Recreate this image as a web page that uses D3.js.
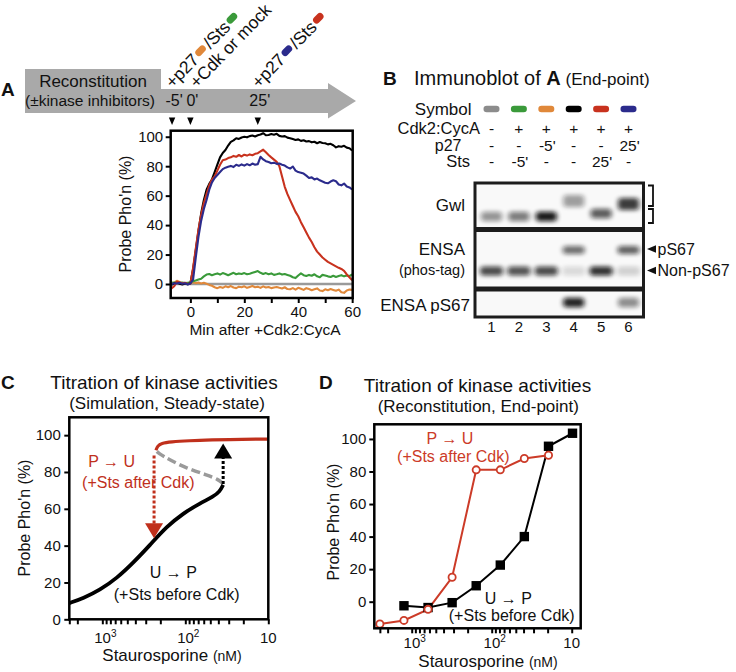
<!DOCTYPE html>
<html><head><meta charset="utf-8">
<script src="https://cdn.jsdelivr.net/npm/d3@7"></script>
<style>
body{margin:0;background:#fff}
svg{display:block}
text{font-family:"Liberation Sans",Arial,Helvetica,sans-serif;fill:#111}
</style>
</head><body>
<svg id="c" width="736" height="672"></svg>
<script>
// ================= DATA =================
// Panel A: time course (minutes after +Cdk2:CycA) and probe phosphorylation (%)
const minutes = [-7,-6,-5,-4,-3,-2,-1,0,1,2,3,4,5,6,7,8,9,10,11,12,13,14,15,16,17,18,19,20,21,22,23,24,25,26,27,28,29,30,31,32,33,34,35,36,37,38,39,40,41,42,43,44,45,46,47,48,49,50,51,52,53,54,55,56,57,58,59,60];
const seriesBlack = [-0.5,0.3,0.8,0.2,-0.3,0.4,-0.2,0.5,10,23,36,48,57,64,68,71,76,81,86,89,91,94,96.5,97.5,99,98.5,99.5,100,99.6,100.4,100.8,100.2,101,101.5,102.4,101,101.2,101.8,101.4,102,100.6,100.2,100.4,99.4,99,98.4,97.8,98.2,97.2,97.6,96.8,97,96.2,96.6,95.6,96.4,95.8,95.6,94.8,95.2,94.2,92.8,93.6,93.2,93.8,92.6,92.2,90.6];
const seriesRed = [-3,-1.5,1.5,1,0.5,0.8,0,0.2,11,24,37,47,55,61,67,71,73,77,81,84,84.5,85.5,86,87,86.4,87.6,86.6,87.8,87.2,88,87.4,88.4,88.8,90,91.2,89.4,87.6,86,84.5,83,80,73,66,61,57,53,49,46,42,38.5,35,31.5,28.5,25,22,20,18,16.5,15,14,13,12,11,10.2,9,6.5,4.5,2.5];
const seriesBlue = [0,0.5,0.3,0.8,0.2,0.5,-0.3,0.4,3,18,32,43,51,57,64,69,72,74,76,78,79,79.6,80.2,79.4,81,80.2,81.2,80.4,81.4,80.6,81.8,81,81.4,86.4,84.6,83.4,82.8,82,82.4,81.6,81.8,81,80.4,79.2,78.4,79.8,77,76,75.6,75,73.6,72,72.4,71,71.6,70.4,69.6,68.8,68.4,69.6,70.4,69.8,67.6,67,68.2,66.2,65.6,64.2];
const seriesGreen = [1,0.8,1.2,0.5,1,0.6,0.9,1.2,1.8,2.4,3,3.6,5.2,6.4,6.8,6,6.6,7.2,6.4,7.4,6.8,6,6.8,7.6,6.6,7.2,6.8,7.4,6.6,7,7.6,8.2,8.8,7.6,6.8,7.4,6.6,7.2,6.2,6.6,7.2,6.4,6.8,6.2,5.6,4.6,4,5.8,7.2,6,5.4,6.2,5.6,6.6,5.2,4.6,6.2,5.8,5.2,4.8,5.6,4.8,5.4,6,5.2,5.8,5.4,6.6];
const seriesOrange = [0.3,1,2.2,1.4,0.6,0,0.5,0.8,1.2,0.6,1,0.4,0.8,0.2,-0.6,-1.2,-2.2,-2.8,-2,-2.6,-1.6,-2.2,-1.4,-2.4,-2.8,-1.8,-2.2,-1.6,-2.6,-2,-1.4,-2.2,-1.8,-2.6,-1.6,-2.4,-2,-2.8,-2.4,-2,-2.6,-3,-2.2,-3.4,-3.6,-2.8,-3.8,-2.6,-3.2,-4,-2.8,-3.4,-4.2,-3.6,-3,-4.4,-4.8,-3.6,-4.2,-3.4,-4,-4.6,-3.8,-5.6,-6,-4.4,-3.8,-4];
const mockMinutes = [-7, 60];
const seriesGray = [0, 0];
const timelineMarks = [-6.8, 0, 25];
const timelineLabels = ["-5'", "0'", "25'"];

// Panel B: immunoblot table
const lanes = [1,2,3,4,5,6];
const laneColors = ["#8c8c8c","#3a9a3a","#e0883a","#000000","#c8321e","#2b2b8c"];
const rowCdk = ["-","+","+","+","+","+"];
const rowP27 = ["-","-","-5'","-","-","25'"];
const rowSts = ["-","-5'","-","-","25'","-"];
const gwlShift = [0,0,0,1,0.2,0.8];          // mobility shift (0 = fast, 1 = slow)
const gwlSignal = [0.42,0.52,0.95,0.38,0.66,0.8];
const ensaPS67Signal = [0,0,0,0.58,0,0.64];
const ensaNonSignal = [0.74,0.7,0.74,0.13,0.85,0.17];
const antiPS67Signal = [0,0,0,0.9,0,0.45];

// Panel C: simulated steady state (Staurosporine nM, %)
const simStableLow = [[2500,8.8],[1700,11.4],[1067,15.9],[670,22.3],[424,30.7],[266,40.4],[168,50.3],[106,57.6],[66.5,63],[46,66.6],[38.5,69.3],[35,73]];
const simUnstable = [[35,73.6],[40,76],[55,78.4],[96,82],[153,86.5],[212,90.2],[226,91.8]];
const simStableHigh = [[226,91.8],[215,94.2],[195,95.6],[150,96.4],[90,97],[50,97.4],[20,97.8],[10,97.9]];
const foldDown = [238, 89, 44];   // conc, from %, to % (P -> U jump)
const foldUp = [35, 73.5, 95.5];   // conc, from %, to % (U -> P jump)

// Panel D: reconstitution end-point
const concBefore = [1250,625,312.5,156.25,78.1,39.1,19.5,9.77];
const valBefore = [-2.5,-3.6,-0.6,9.8,22.5,40,95.5,103.5];
const concAfter = [2500,1250,625,312.5,156.25,78.1,39.1,19.5];
const valAfter = [-13.7,-11.5,-4.7,15,81,81,88,90];

const yTicks = [0,20,40,60,80,100];
const logLabels = {1000:["10","3"],100:["10","2"],10:["10",""]};

// ================= DRAW =================
const svg = d3.select("#c");

function txt(x,y,s,size,anchor,opts={}){
  const t = svg.append("text").attr("x",x).attr("y",y).attr("font-size",size)
    .attr("text-anchor",anchor||"start").text(s);
  if(opts.bold) t.attr("font-weight","bold");
  if(opts.fill) t.style("fill",opts.fill);
  return t;
}

// ---------- Panel A ----------
txt(1,96,"A",19,"start",{bold:true});
svg.append("polygon")
  .attr("points",[[25,69],[161,69],[161,89],[328,89],[328,83],[356,101],[328,118.5],[328,113],[25,113]].map(p=>p.join(",")).join(" "))
  .attr("fill","#a9a9a9");
txt(93,87,"Reconstitution",17,"middle");
txt(90,106,"(±kinase inhibitors)",15.5,"middle");

const xA = d3.scaleLinear().domain([-7.3,60.2]).range([170.7,352.7]);
const yA = d3.scaleLinear().domain([-9.5,104.1]).range([298,130.7]);

timelineMarks.forEach((t,i)=>{
  txt(xA(t)+2,106,timelineLabels[i],16,"middle");
  const x = xA(t);
  svg.append("path").attr("d",`M${x-3.2},117.5 L${x+3.2},117.5 L${x},125 Z`).attr("fill","#000");
});

function rotLabel(t,dx,parts){
  const g = svg.append("g").attr("transform",`translate(${xA(t)+dx},89) rotate(-46)`);
  let cx = 0;
  parts.forEach(p=>{
    if(typeof p === "string"){
      const tt = g.append("text").attr("x",cx).attr("y",0).attr("font-size",17.5).text(p);
      cx += tt.node().getComputedTextLength();
    } else {
      g.append("rect").attr("x",cx+1.5).attr("y",-10).attr("width",12).attr("height",7)
        .attr("rx",3.5).attr("fill",p.c);
      cx += 15;
    }
  });
}
rotLabel(timelineMarks[0],0.6,["+p27",{c:laneColors[2]}," /Sts",{c:laneColors[1]}]);
rotLabel(timelineMarks[1],6.6,["+Cdk or mock"]);
rotLabel(timelineMarks[2],1.2,["+p27",{c:laneColors[5]}," /Sts",{c:laneColors[4]}]);

svg.append("clipPath").attr("id","clipA").append("rect")
  .attr("x",170.7).attr("y",130.7).attr("width",182).attr("height",167.3);
const lineA = d3.line().x((d,i)=>xA(minutes[i])).y(d=>yA(d));
const gA = svg.append("g").attr("clip-path","url(#clipA)");
gA.append("path").datum(seriesGray)
  .attr("d",d3.line().x((d,i)=>xA(mockMinutes[i])).y(d=>yA(d)))
  .attr("fill","none").attr("stroke","#9a9a9a").attr("stroke-width",2.4);
[[seriesOrange,laneColors[2]],[seriesGreen,laneColors[1]],[seriesBlack,"#000"],[seriesRed,laneColors[4]],[seriesBlue,laneColors[5]]]
  .forEach(([s,c])=>{
    gA.append("path").datum(s).attr("d",lineA).attr("fill","none")
      .attr("stroke",c).attr("stroke-width",2.1).attr("stroke-linejoin","round");
  });

function styleAxis(g,size){
  g.select(".domain").remove();
  g.selectAll(".tick line").attr("stroke","#000").attr("stroke-width",2);
  g.selectAll(".tick text").attr("font-size",size).style("fill","#111")
    .attr("font-family",'"Liberation Sans",Arial,sans-serif');
}
const axAx = svg.append("g").attr("transform","translate(0,298)")
  .call(d3.axisBottom(xA).tickValues([0,10,20,30,40,50,60]).tickSize(5).tickPadding(3)
    .tickFormat(d=> d%20===0 ? d : ""));
styleAxis(axAx,15);
const axAy = svg.append("g").attr("transform","translate(170.7,0)")
  .call(d3.axisLeft(yA).tickValues(yTicks).tickSize(5).tickPadding(2.5));
styleAxis(axAy,15);
svg.append("rect").attr("x",170.7).attr("y",130.7).attr("width",182).attr("height",167.3)
  .attr("fill","none").attr("stroke","#000").attr("stroke-width",2.5);
txt(265,335,"Min after +Cdk2:CycA",15.5,"middle");
svg.append("text").attr("transform","translate(131,214) rotate(-90)")
  .attr("text-anchor","middle").attr("font-size",16).text("Probe Pho'n (%)");

// ---------- Panel B ----------
txt(383,85,"B",19,"start",{bold:true});
const tB = txt(414,85,"Immunoblot of ",20,"start");
tB.append("tspan").attr("font-weight","bold").text("A");
tB.append("tspan").attr("font-size",17).text(" (End-point)");

const xL = d3.scalePoint().domain(lanes).range([491.5,628.5]);
txt(471.5,114.5,"Symbol",17,"end");
lanes.forEach((l,i)=>{
  svg.append("rect").attr("x",xL(l)-8).attr("y",105.8).attr("width",16).attr("height",6.5)
    .attr("rx",3.2).attr("fill",laneColors[i]);
});
txt(480,134,"Cdk2:CycA",16.5,"end");
txt(461.5,151,"p27",16,"end");
txt(470,167,"Sts",16.5,"end");
[[rowCdk,134],[rowP27,151],[rowSts,167]].forEach(([row,y])=>{
  row.forEach((s,i)=> txt(xL(lanes[i])+(s.length>1?1:0),y,s,15.5,"middle"));
});

// blot
const defs = svg.append("defs");
defs.append("filter").attr("id","blur").attr("x","-50%").attr("y","-100%").attr("width","200%").attr("height","300%")
  .append("feGaussianBlur").attr("stdDeviation","2.6 2.2");
svg.append("rect").attr("x",473.5).attr("y",181.5).attr("width",171.5).attr("height",137).attr("fill","#1c1c1c");
const panels = [[184.5,227],[232,286.5],[291.5,315.5]];
panels.forEach(([a,b],i)=>{
  svg.append("rect").attr("x",476.5).attr("y",a).attr("width",165.5).attr("height",b-a).attr("fill","#f9f9f9");
  defs.append("clipPath").attr("id","pc"+i).append("rect")
    .attr("x",476.5).attr("y",a).attr("width",165.5).attr("height",b-a);
});
function band(panel,lane,yc,sig,w,h){
  if(sig<=0) return;
  svg.append("g").attr("clip-path",`url(#pc${panel})`).append("rect")
    .attr("x",xL(lane)-w/2).attr("y",yc-h/2).attr("width",w).attr("height",h).attr("rx",3.5)
    .attr("fill","#0a0a0a").attr("opacity",sig).attr("filter","url(#blur)");
}
lanes.forEach((l,i)=>{
  band(0,l,216.5-gwlShift[i]*15.5,gwlSignal[i],21,gwlShift[i]>0.5?12:9.5);
  band(1,l,250,ensaPS67Signal[i],22,8);
  band(1,l,271,ensaNonSignal[i],23,9);
  band(2,l,302.5,antiPS67Signal[i],21,9.5);
  txt(xL(l),332,String(l),15,"middle");
});
txt(465,211,"Gwl",17,"end");
txt(465,255,"ENSA",17,"end");
txt(465,275,"(phos-tag)",14.5,"end");
txt(470,311,"ENSA pS67",17,"end");
svg.append("path").attr("d","M648,185.5 H653 V206 H648 M648,209 H653 V223 H648")
  .attr("fill","none").attr("stroke","#111").attr("stroke-width",1.8);
[[249,"pS67"],[270.5,"Non-pS67"]].forEach(([y,s])=>{
  svg.append("path").attr("d",`M647,${y} L656,${y-3.8} L656,${y+3.8} Z`).attr("fill","#111");
  txt(657.5,y+5.5,s,16,"start");
});

// ---------- log x axis helper ----------
function logAxis(x,yPos,labOff){
  const tv = [2500,2000,1000,900,800,700,600,500,400,300,200,100,90,80,70,60,50,40,30,20,10]
    .filter(v=> v<=x.domain()[0] && v>=x.domain()[1]);
  const g = svg.append("g").attr("transform",`translate(0,${yPos})`)
    .call(d3.axisBottom(x).tickValues(tv).tickSize(5).tickFormat(""));
  g.select(".domain").remove();
  g.selectAll(".tick line").attr("stroke","#000").attr("stroke-width",2);
  [1000,100,10].forEach(v=>{
    const t = svg.append("text").attr("x",x(v)+(v===10?0:3)).attr("y",yPos+labOff).attr("font-size",15)
      .attr("text-anchor","middle").text(logLabels[v][0]);
    if(logLabels[v][1]) t.append("tspan").attr("dy",-6).attr("font-size",10).text(logLabels[v][1]);
  });
}
function xTitle(cx,y){
  const t = txt(cx,y,"Staurosporine ",17,"middle");
  t.append("tspan").attr("font-size",14).text("(nM)");
}

// ---------- Panel C ----------
txt(1,389,"C",19,"start",{bold:true});
txt(164,389,"Titration of kinase activities",19,"middle");
txt(167,409,"(Simulation, Steady-state)",17,"middle");
const xC = d3.scaleLog().domain([2500,10]).range([69.3,268.3]);
const yC = d3.scaleLinear().domain([0,109.7]).range([619.3,417.3]);
const lineC = d3.line().x(d=>xC(d[0])).y(d=>yC(d[1])).curve(d3.curveBasis);
svg.append("clipPath").attr("id","clipC").append("rect")
  .attr("x",69.3).attr("y",417.3).attr("width",199).attr("height",202);
const gC = svg.append("g").attr("clip-path","url(#clipC)");
gC.append("path").datum(simUnstable).attr("d",lineC).attr("fill","none")
  .attr("stroke","#9a9a9a").attr("stroke-width",3.5).attr("stroke-dasharray","9,4");
gC.append("path").datum(simStableHigh).attr("d",lineC).attr("fill","none")
  .attr("stroke","#c0301c").attr("stroke-width",3.2);
gC.append("path").datum(simStableLow).attr("d",lineC).attr("fill","none")
  .attr("stroke","#000").attr("stroke-width",3.8);
// jump arrows
(function(){
  const x1 = xC(foldDown[0]);
  svg.append("line").attr("x1",x1).attr("x2",x1).attr("y1",yC(foldDown[1])).attr("y2",yC(foldDown[2])-14)
    .attr("stroke","#c0301c").attr("stroke-width",3).attr("stroke-dasharray","3,2");
  svg.append("path").attr("d",`M${x1-9},${yC(foldDown[2])-15} L${x1+9},${yC(foldDown[2])-15} L${x1},${yC(foldDown[2])} Z`).attr("fill","#c0301c");
  const x2 = xC(foldUp[0]);
  svg.append("line").attr("x1",x2).attr("x2",x2).attr("y1",yC(foldUp[1])).attr("y2",yC(foldUp[2])+14)
    .attr("stroke","#000").attr("stroke-width",3).attr("stroke-dasharray","3,2");
  svg.append("path").attr("d",`M${x2-9},${yC(foldUp[2])+15} L${x2+9},${yC(foldUp[2])+15} L${x2},${yC(foldUp[2])} Z`).attr("fill","#000");
})();
txt(111.7,467,"P → U",16,"middle",{fill:"#c0301c"});
txt(138.3,488,"(+Sts after Cdk)",16,"middle",{fill:"#c0301c"});
txt(173.3,578,"U → P",16,"middle");
txt(176.7,599.5,"(+Sts before Cdk)",16,"middle");
const axCy = svg.append("g").attr("transform","translate(69.3,0)")
  .call(d3.axisLeft(yC).tickValues(yTicks).tickSize(5).tickPadding(3.5));
styleAxis(axCy,15);
logAxis(xC,619.3,23.5);
svg.append("rect").attr("x",69.3).attr("y",417.3).attr("width",199).attr("height",202)
  .attr("fill","none").attr("stroke","#000").attr("stroke-width",2.5);
xTitle(172,661);
svg.append("text").attr("transform","translate(30,518) rotate(-90)")
  .attr("text-anchor","middle").attr("font-size",16).text("Probe Pho'n (%)");

// ---------- Panel D ----------
txt(319,389,"D",19,"start",{bold:true});
txt(477.5,392,"Titration of kinase activities",19,"middle");
txt(478.3,412,"(Reconstitution, End-point)",17,"middle");
const xD = d3.scaleLog().domain([2935,7.72]).range([374.3,580.7]);
const yD = d3.scaleLinear().domain([-16.35,109]).range([628.3,424.3]);
const axDy = svg.append("g").attr("transform","translate(374.3,0)")
  .call(d3.axisLeft(yD).tickValues(yTicks).tickSize(5).tickPadding(3));
styleAxis(axDy,15);
logAxis(xD,628.3,19.5);
const redD = "#cc3b28";
const lineDB = d3.line().x((d,i)=>xD(concBefore[i])).y(d=>yD(d));
const lineDA = d3.line().x((d,i)=>xD(concAfter[i])).y(d=>yD(d));
svg.append("path").datum(valAfter).attr("d",lineDA).attr("fill","none").attr("stroke",redD).attr("stroke-width",2);
svg.append("path").datum(valBefore).attr("d",lineDB).attr("fill","none").attr("stroke","#000").attr("stroke-width",2);
svg.selectAll(".sqD").data(valBefore).join("rect").attr("class","sqD")
  .attr("x",(d,i)=>xD(concBefore[i])-4.7).attr("y",d=>yD(d)-4.7).attr("width",9.4).attr("height",9.4).attr("fill","#000");
svg.selectAll(".ciD").data(valAfter).join("circle").attr("class","ciD")
  .attr("cx",(d,i)=>xD(concAfter[i])).attr("cy",d=>yD(d)).attr("r",3.6)
  .attr("fill","#fff").attr("stroke",redD).attr("stroke-width",1.8);
txt(450,443.5,"P → U",16,"middle",{fill:redD});
txt(453.3,462,"(+Sts after Cdk)",16,"middle",{fill:redD});
txt(508.3,603.5,"U → P",16,"middle");
txt(511.7,621,"(+Sts before Cdk)",16,"middle");
svg.append("rect").attr("x",374.3).attr("y",424.3).attr("width",206.4).attr("height",204)
  .attr("fill","none").attr("stroke","#000").attr("stroke-width",2.5);
xTitle(488,667);
svg.append("text").attr("transform","translate(339,522) rotate(-90)")
  .attr("text-anchor","middle").attr("font-size",16).text("Probe Pho'n (%)");
</script>
</body></html>
